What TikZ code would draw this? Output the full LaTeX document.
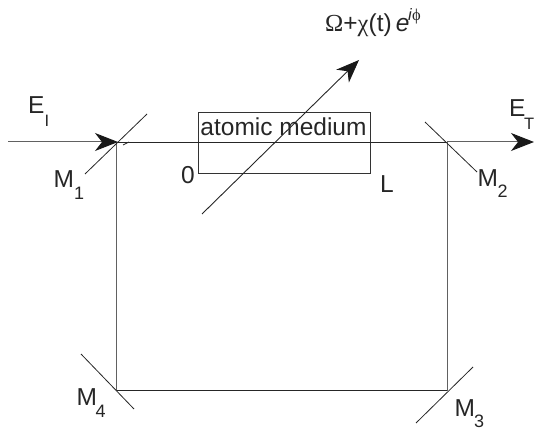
\documentclass[tikz,border=0pt]{standalone}
\usepackage{fontspec}
\setmainfont{Liberation Sans}
\newfontfamily\grk{Liberation Serif}
\usetikzlibrary{arrows.meta}
\tikzset{
  beam/.style={line width=1pt,draw=black!62},
  thin beam/.style={line width=0.9pt,draw=black!85},
  mirror/.style={line width=0.8pt,draw=black!85},
  head/.style={-{Stealth[length=23pt,width=18pt,inset=7pt,color=black!90]}},
  lab/.style={inner sep=0pt,font=\fontsize{24.5}{26}\selectfont,text=black!85},
  subl/.style={inner sep=0pt,font=\fontsize{16.5}{19}\selectfont,text=black!85},
  digit/.style={inner sep=0pt,font=\fontsize{18}{20}\selectfont,text=black!85}
}
\begin{document}
\begin{tikzpicture}[x=1pt,y=-1pt]
\useasboundingbox (0,0) rectangle (534,430);
\coordinate (in) at (8,142);
\coordinate (c1) at (116,142);
\coordinate (tip) at (118,142);
\coordinate (c2) at (447,142);
\coordinate (c3) at (447,390.5);
\coordinate (c4) at (116,390.5);
\coordinate (out) at (534,142);
\coordinate (p0) at (202,214);
\coordinate (p1) at (359,60);
\coordinate (m1a) at (85,174);\coordinate (m1b) at (147,114);
\coordinate (m2a) at (425,122);\coordinate (m2b) at (477,172);
\coordinate (m3a) at (416,423);\coordinate (m3b) at (473,367);
\coordinate (m4a) at (81,354);\coordinate (m4b) at (134,409);
\coordinate (t1) at (123,145);\coordinate (t2) at (129,142);
% atomic medium box
\node[draw=black!80,line width=0.8pt,minimum width=172pt,minimum height=61pt,inner sep=0pt] (box) at (284,142.5) {};
\node[lab,anchor=base] (txt) at (283.5,136) {atomic medium};
% cavity
\draw[thin beam] (c1) -- (c2);
\draw[beam] (c2) -- (c3);
\draw[thin beam] (c3) -- (c4);
\draw[beam] (c4) -- (c1);
% input, output
\draw[beam,head] (in) -- (tip);
\draw[beam,head] (c2) -- (out);
% pump
\draw[thin beam,head] (p0) -- (p1);
% mirrors
\draw[mirror] (m1a) -- (m1b);
\draw[mirror] (m2a) -- (m2b);
\draw[mirror] (m3a) -- (m3b);
\draw[mirror] (m4a) -- (m4b);
\draw[mirror] (t1) -- (t2);
% labels
\node[lab,anchor=base west] (ei) at (28,114) {E};
\node[subl,anchor=base west] (eis) at (44.5,127) {I};
\node[lab,anchor=base west] (et) at (509,117) {E};
\node[subl,anchor=base west] (ets) at (524,130) {T};
\node[lab,anchor=base west] (m1) at (53.5,187) {M};
\node[digit,anchor=base west] (m1s) at (74,199) {1};
\node[lab,anchor=base west] (m2) at (477.5,186) {M};
\node[digit,anchor=base west] (m2s) at (497.5,197) {2};
\node[lab,anchor=base west] (m3) at (454.5,416) {M};
\node[digit,anchor=base west] (m3s) at (474,427) {3};
\node[lab,anchor=base west] (m4) at (76.5,405) {M};
\node[digit,anchor=base west] (m4s) at (95.5,417) {4};
\node[lab,anchor=base west] (zero) at (181,183) {0};
\node[lab,anchor=base west] (ell) at (380,192) {L};
\node[lab,anchor=base west] (chi) at (325,32) {{\grk Ω}+{\grk χ}(t)\,\textit{e}};
\node[subl,anchor=base west] (phi) at (408,21) {\textit{i}{\grk ϕ}};
\end{tikzpicture}
\end{document}
